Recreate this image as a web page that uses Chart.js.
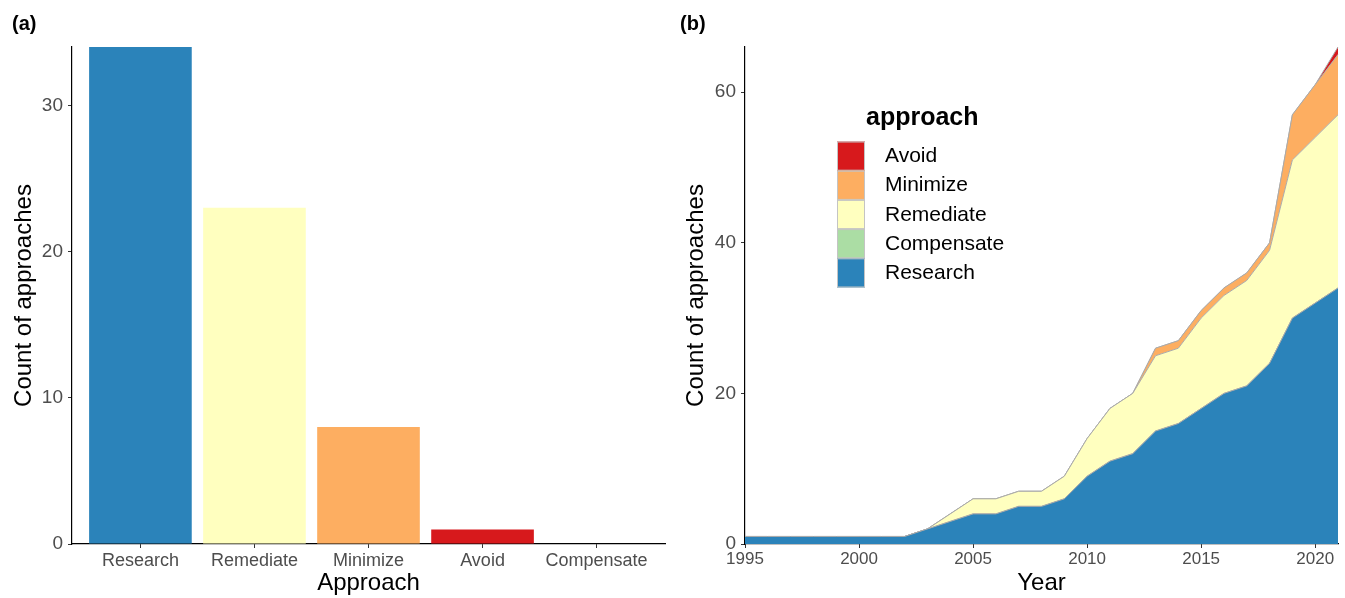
<!DOCTYPE html>
<html>
<head>
<meta charset="utf-8">
<script src="https://cdn.jsdelivr.net/npm/chart.js@4.4.1/dist/chart.umd.min.js"></script>
<style>
  html, body { margin: 0; padding: 0; background: #fff; }
  #wrap { position: relative; width: 1345px; height: 598px; }
  .panel { position: absolute; top: 0; height: 598px; }
  #pa { left: 0; width: 672px; }
  #pb { left: 672px; width: 673px; }
</style>
</head>
<body>
<div id="wrap">
  <div class="panel" id="pa"><canvas id="bars"></canvas></div>
  <div class="panel" id="pb"><canvas id="areas"></canvas></div>
</div>
<script>
// panel (a): totals per approach
const approaches = ['Research', 'Remediate', 'Minimize', 'Avoid', 'Compensate'];
const approachCounts = [34, 23, 8, 1, 0];

// panel (b): cumulative counts per year
const years = [1995, 1996, 1997, 1998, 1999, 2000, 2001, 2002, 2003, 2004, 2005, 2006, 2007, 2008,
  2009, 2010, 2011, 2012, 2013, 2014, 2015, 2016, 2017, 2018, 2019, 2020, 2021];
const research   = [1, 1, 1, 1, 1, 1, 1, 1, 2, 3, 4, 4, 5, 5, 6, 9, 11, 12, 15, 16, 18, 20, 21, 24, 30, 32, 34];
const compensate = [0, 0, 0, 0, 0, 0, 0, 0, 0, 0, 0, 0, 0, 0, 0, 0, 0, 0, 0, 0, 0, 0, 0, 0, 0, 0, 0];
const remediate  = [0, 0, 0, 0, 0, 0, 0, 0, 0, 1, 2, 2, 2, 2, 3, 5, 7, 8, 10, 10, 12, 13, 14, 15, 21, 22, 23];
const minimize   = [0, 0, 0, 0, 0, 0, 0, 0, 0, 0, 0, 0, 0, 0, 0, 0, 0, 0, 1, 1, 1, 1, 1, 1, 6, 7, 8];
const avoid      = [0, 0, 0, 0, 0, 0, 0, 0, 0, 0, 0, 0, 0, 0, 0, 0, 0, 0, 0, 0, 0, 0, 0, 0, 0, 0, 1];

const colours = {
  Research: '#2b83ba',
  Compensate: '#abdda4',
  Remediate: '#ffffbf',
  Minimize: '#fdae61',
  Avoid: '#d7191c',
};

const FONT = '"Liberation Sans", Arial, Helvetica, sans-serif';
const tickGrey = '#4d4d4d';

function axisLook(extra) {
  return Object.assign({
    border: { display: true, color: '#000', width: 1.2 },
    grid: { offset: false, drawOnChartArea: false, drawTicks: true, tickLength: 4, tickColor: '#333', lineWidth: 1 },
  }, extra);
}

function panelLabel(text, x) {
  return {
    id: 'panelLabel',
    afterDraw(chart) {
      const ctx = chart.ctx;
      ctx.save();
      ctx.font = 'bold 20px ' + FONT;
      ctx.fillStyle = '#000';
      ctx.textBaseline = 'alphabetic';
      ctx.fillText(text, x, 30);
      ctx.restore();
    },
  };
}

// ---- panel (a) ----
new Chart(document.getElementById('bars'), {
  type: 'bar',
  data: {
    datasets: [{
      data: approaches.map((a, i) => ({ x: i, y: approachCounts[i] })),
      backgroundColor: approaches.map((a) => colours[a]),
      borderWidth: 0,
      categoryPercentage: 1,
      barPercentage: 0.9,
    }],
  },
  options: {
    responsive: true,
    maintainAspectRatio: false,
    animation: false,
    layout: { padding: { left: 0, right: 7, top: 47, bottom: 0 } },
    plugins: { legend: { display: false }, tooltip: { enabled: false } },
    scales: {
      x: axisLook({
        type: 'linear',
        offset: false,
        min: -0.6,
        max: 4.6,
        afterBuildTicks: (s) => { s.ticks = approaches.map((a, i) => ({ value: i })); },
        afterFit: (s) => { s.height = 54; },
        ticks: {
          callback: (v) => approaches[v],
          color: tickGrey,
          font: { family: FONT, size: 18 },
          padding: 2,
          maxRotation: 0,
        },
        title: { display: true, text: 'Approach', color: '#000', font: { family: FONT, size: 24 }, padding: { top: 0, bottom: 0 } },
      }),
      y: axisLook({
        min: 0,
        max: 34,
        afterFit: (s) => { s.width = 72; },
        ticks: {
          stepSize: 10,
          includeBounds: false,
          color: tickGrey,
          font: { family: FONT, size: 19 },
          padding: 5,
        },
        title: { display: true, text: 'Count of approaches', color: '#000', font: { family: FONT, size: 24 }, padding: { top: 10, bottom: 0 } },
      }),
    },
  },
  plugins: [panelLabel('(a)', 12)],
});

// ---- panel (b) ----
const legendOrder = ['Avoid', 'Minimize', 'Remediate', 'Compensate', 'Research'];

const areaLegend = {
  id: 'areaLegend',
  afterDraw(chart) {
    const ctx = chart.ctx;
    ctx.save();
    ctx.fillStyle = '#000';
    ctx.font = 'bold 25px ' + FONT;
    ctx.textBaseline = 'middle';
    ctx.fillText('approach', 194, 118);
    ctx.font = '21px ' + FONT;
    legendOrder.forEach((name, i) => {
      const y = 141.5 + i * 29.2;
      ctx.fillStyle = colours[name];
      ctx.fillRect(165, y, 28, 29.2);
      ctx.strokeStyle = '#c4c4c4';
      ctx.lineWidth = 1;
      ctx.strokeRect(165.5, y + 0.5, 27, 28.2);
      ctx.fillStyle = '#000';
      ctx.fillText(name, 213, y + 15);
    });
    ctx.restore();
  },
};

function areaSet(label, values, fill) {
  return {
    label,
    data: values,
    backgroundColor: colours[label],
    borderColor: '#ababab',
    borderWidth: 1,
    pointRadius: 0,
    tension: 0,
    fill,
  };
}

new Chart(document.getElementById('areas'), {
  type: 'line',
  data: {
    labels: years,
    datasets: [
      areaSet('Research', research, 'origin'),
      areaSet('Compensate', compensate, '-1'),
      areaSet('Remediate', remediate, '-1'),
      areaSet('Minimize', minimize, '-1'),
      areaSet('Avoid', avoid, '-1'),
    ],
  },
  options: {
    responsive: true,
    maintainAspectRatio: false,
    animation: false,
    layout: { padding: { left: 0, right: 7, top: 47, bottom: 0 } },
    plugins: { legend: { display: false }, tooltip: { enabled: false } },
    scales: {
      x: axisLook({
        offset: false,
        afterFit: (s) => { s.height = 54; },
        ticks: {
          autoSkip: false,
          maxRotation: 0,
          callback: (v, i) => (years[i] % 5 === 0 ? String(years[i]) : null),
          color: tickGrey,
          font: { family: FONT, size: 17 },
          padding: 1,
        },
        title: { display: true, text: 'Year', color: '#000', font: { family: FONT, size: 24 }, padding: { top: 0, bottom: 0 } },
      }),
      y: axisLook({
        stacked: true,
        min: 0,
        max: 66,
        afterFit: (s) => { s.width = 73; },
        ticks: {
          stepSize: 20,
          includeBounds: false,
          color: tickGrey,
          font: { family: FONT, size: 19 },
          padding: 5,
        },
        title: { display: true, text: 'Count of approaches', color: '#000', font: { family: FONT, size: 24 }, padding: { top: 10, bottom: 0 } },
      }),
    },
  },
  plugins: [panelLabel('(b)', 8), areaLegend],
});
</script>
</body>
</html>
